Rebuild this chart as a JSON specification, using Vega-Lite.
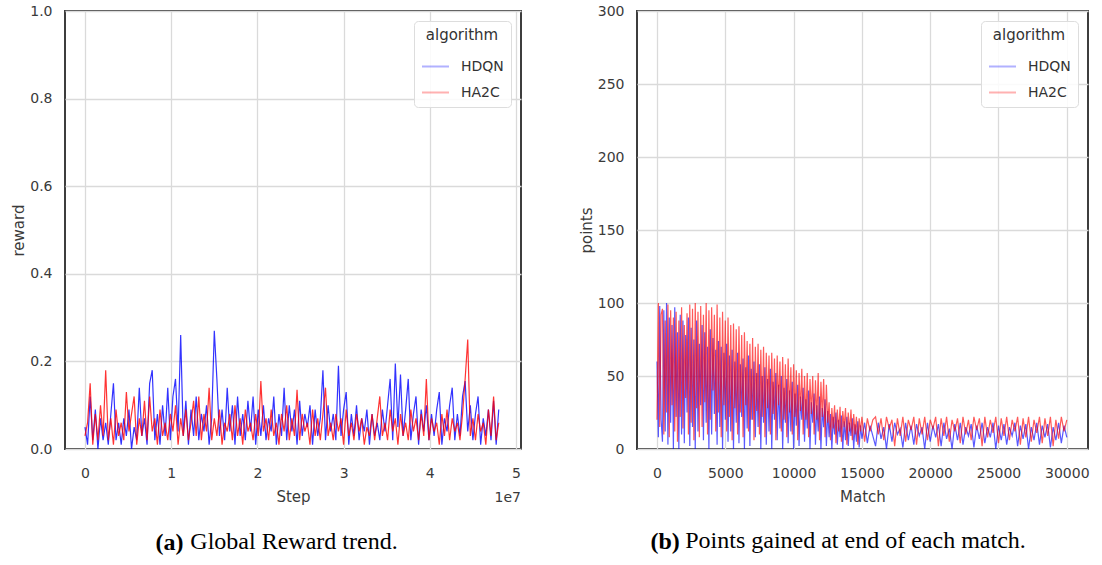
{
  "$schema": "https://vega.github.io/schema/vega-lite/v6.json",
  "padding": {"left": 10, "top": 3, "right": 5, "bottom": 0},
  "background": "white",
  "spacing": 56,
  "config": {
    "font": "DejaVu Sans",
    "view": {"stroke": "#3d3d3d", "strokeWidth": 2},
    "axis": {"grid": true, "gridColor": "#dadada", "gridWidth": 1.3, "domain": false, "ticks": false, "tickSize": 0,
      "labelFont": "DejaVu Sans", "labelFontSize": 14, "labelColor": "#3a3a3a",
      "titleFont": "DejaVu Sans", "titleFontSize": 15, "titleFontWeight": "normal", "titleColor": "#3a3a3a",
      "labelPadding": 13, "titlePadding": 3},
    "axisX": {"labelPadding": 17, "titlePadding": 9},
    "legend": {"orient": "top-right", "offset": 10, "fillColor": "rgba(255,255,255,0.85)", "strokeColor": "#dddddd", "cornerRadius": 4, "padding": 7,
      "titleFont": "DejaVu Sans", "titleFontSize": 15, "titleFontWeight": "normal", "titleColor": "#333333",
      "labelFont": "DejaVu Sans", "labelFontSize": 14, "labelColor": "#333333",
      "symbolType": "stroke", "symbolStrokeWidth": 2, "symbolSize": 729, "symbolOpacity": 0.3,
      "rowPadding": 4, "titleAnchor": "middle", "titlePadding": 9, "labelOffset": 11},
    "title": {"font": "Liberation Serif", "fontSize": 24, "color": "#000000"}
  },
  "datasets": {
    "reward": [
      {"Step":0,"HDQN":0.05,"HA2C":0.03},{"Step":300000,"HDQN":0.01,"HA2C":0.06},{"Step":600000,"HDQN":0.12,"HA2C":0.15},{"Step":900000,"HDQN":0.02,"HA2C":0.01},
      {"Step":1200000,"HDQN":0.09,"HA2C":0.08},{"Step":1500000,"HDQN":0.0,"HA2C":0.02},{"Step":1800000,"HDQN":0.07,"HA2C":0.10},{"Step":2100000,"HDQN":0.02,"HA2C":0.03},
      {"Step":2400000,"HDQN":0.06,"HA2C":0.18},{"Step":2700000,"HDQN":0.01,"HA2C":0.02},{"Step":3000000,"HDQN":0.08,"HA2C":0.07},{"Step":3300000,"HDQN":0.15,"HA2C":0.01},
      {"Step":3600000,"HDQN":0.02,"HA2C":0.09},{"Step":3900000,"HDQN":0.06,"HA2C":0.03},{"Step":4200000,"HDQN":0.01,"HA2C":0.06},{"Step":4500000,"HDQN":0.07,"HA2C":0.02},
      {"Step":4800000,"HDQN":0.03,"HA2C":0.13},{"Step":5100000,"HDQN":0.09,"HA2C":0.04},{"Step":5400000,"HDQN":0.0,"HA2C":0.08},{"Step":5700000,"HDQN":0.05,"HA2C":0.12},
      {"Step":6000000,"HDQN":0.02,"HA2C":0.01},{"Step":6300000,"HDQN":0.14,"HA2C":0.07},{"Step":6600000,"HDQN":0.03,"HA2C":0.03},{"Step":6900000,"HDQN":0.07,"HA2C":0.11},
      {"Step":7200000,"HDQN":0.01,"HA2C":0.02},{"Step":7500000,"HDQN":0.15,"HA2C":0.12},{"Step":7800000,"HDQN":0.18,"HA2C":0.04},{"Step":8100000,"HDQN":0.02,"HA2C":0.07},
      {"Step":8400000,"HDQN":0.08,"HA2C":0.01},{"Step":8700000,"HDQN":0.01,"HA2C":0.09},{"Step":9000000,"HDQN":0.10,"HA2C":0.03},{"Step":9300000,"HDQN":0.03,"HA2C":0.06},
      {"Step":9600000,"HDQN":0.14,"HA2C":0.02},{"Step":9900000,"HDQN":0.02,"HA2C":0.08},{"Step":10200000,"HDQN":0.12,"HA2C":0.04},{"Step":10500000,"HDQN":0.16,"HA2C":0.10},
      {"Step":10800000,"HDQN":0.04,"HA2C":0.01},{"Step":11100000,"HDQN":0.26,"HA2C":0.07},{"Step":11400000,"HDQN":0.03,"HA2C":0.03},{"Step":11700000,"HDQN":0.11,"HA2C":0.09},
      {"Step":12000000,"HDQN":0.01,"HA2C":0.02},{"Step":12300000,"HDQN":0.09,"HA2C":0.06},{"Step":12600000,"HDQN":0.03,"HA2C":0.11},{"Step":12900000,"HDQN":0.12,"HA2C":0.03},
      {"Step":13200000,"HDQN":0.02,"HA2C":0.12},{"Step":13500000,"HDQN":0.08,"HA2C":0.02},{"Step":13800000,"HDQN":0.04,"HA2C":0.08},{"Step":14100000,"HDQN":0.10,"HA2C":0.04},
      {"Step":14400000,"HDQN":0.01,"HA2C":0.14},{"Step":14700000,"HDQN":0.07,"HA2C":0.02},{"Step":15000000,"HDQN":0.27,"HA2C":0.07},{"Step":15300000,"HDQN":0.16,"HA2C":0.03},
      {"Step":15600000,"HDQN":0.03,"HA2C":0.09},{"Step":15900000,"HDQN":0.09,"HA2C":0.01},{"Step":16200000,"HDQN":0.02,"HA2C":0.06},{"Step":16500000,"HDQN":0.14,"HA2C":0.04},
      {"Step":16800000,"HDQN":0.04,"HA2C":0.08},{"Step":17100000,"HDQN":0.10,"HA2C":0.02},{"Step":17400000,"HDQN":0.01,"HA2C":0.10},{"Step":17700000,"HDQN":0.12,"HA2C":0.03},
      {"Step":18000000,"HDQN":0.03,"HA2C":0.07},{"Step":18300000,"HDQN":0.08,"HA2C":0.01},{"Step":18600000,"HDQN":0.02,"HA2C":0.09},{"Step":18900000,"HDQN":0.11,"HA2C":0.04},
      {"Step":19200000,"HDQN":0.04,"HA2C":0.06},{"Step":19500000,"HDQN":0.12,"HA2C":0.02},{"Step":19800000,"HDQN":0.01,"HA2C":0.08},{"Step":20100000,"HDQN":0.09,"HA2C":0.03},
      {"Step":20400000,"HDQN":0.03,"HA2C":0.155},{"Step":20700000,"HDQN":0.10,"HA2C":0.04},{"Step":21000000,"HDQN":0.02,"HA2C":0.07},{"Step":21300000,"HDQN":0.07,"HA2C":0.02},
      {"Step":21600000,"HDQN":0.04,"HA2C":0.09},{"Step":21900000,"HDQN":0.12,"HA2C":0.03},{"Step":22200000,"HDQN":0.01,"HA2C":0.06},{"Step":22500000,"HDQN":0.08,"HA2C":0.01},
      {"Step":22800000,"HDQN":0.03,"HA2C":0.08},{"Step":23100000,"HDQN":0.14,"HA2C":0.04},{"Step":23400000,"HDQN":0.02,"HA2C":0.10},{"Step":23700000,"HDQN":0.10,"HA2C":0.02},
      {"Step":24000000,"HDQN":0.04,"HA2C":0.07},{"Step":24300000,"HDQN":0.09,"HA2C":0.03},{"Step":24600000,"HDQN":0.01,"HA2C":0.135},{"Step":24900000,"HDQN":0.11,"HA2C":0.02},
      {"Step":25200000,"HDQN":0.03,"HA2C":0.08},{"Step":25500000,"HDQN":0.08,"HA2C":0.04},{"Step":25800000,"HDQN":0.05,"HA2C":0.06},{"Step":26100000,"HDQN":0.10,"HA2C":0.01},
      {"Step":26400000,"HDQN":0.01,"HA2C":0.09},{"Step":26700000,"HDQN":0.09,"HA2C":0.03},{"Step":27000000,"HDQN":0.03,"HA2C":0.07},{"Step":27300000,"HDQN":0.07,"HA2C":0.02},
      {"Step":27600000,"HDQN":0.18,"HA2C":0.08},{"Step":27900000,"HDQN":0.02,"HA2C":0.14},{"Step":28200000,"HDQN":0.10,"HA2C":0.03},{"Step":28500000,"HDQN":0.04,"HA2C":0.06},
      {"Step":28800000,"HDQN":0.08,"HA2C":0.02},{"Step":29100000,"HDQN":0.02,"HA2C":0.08},{"Step":29400000,"HDQN":0.19,"HA2C":0.04},{"Step":29700000,"HDQN":0.03,"HA2C":0.07},
      {"Step":30000000,"HDQN":0.09,"HA2C":0.01},{"Step":30300000,"HDQN":0.13,"HA2C":0.09},{"Step":30600000,"HDQN":0.01,"HA2C":0.03},{"Step":30900000,"HDQN":0.08,"HA2C":0.06},
      {"Step":31200000,"HDQN":0.03,"HA2C":0.02},{"Step":31500000,"HDQN":0.10,"HA2C":0.08},{"Step":31800000,"HDQN":0.02,"HA2C":0.04},{"Step":32100000,"HDQN":0.07,"HA2C":0.07},
      {"Step":32400000,"HDQN":0.04,"HA2C":0.01},{"Step":32700000,"HDQN":0.09,"HA2C":0.05},{"Step":33000000,"HDQN":0.01,"HA2C":0.03},{"Step":33300000,"HDQN":0.08,"HA2C":0.08},
      {"Step":33600000,"HDQN":0.03,"HA2C":0.02},{"Step":33900000,"HDQN":0.06,"HA2C":0.07},{"Step":34200000,"HDQN":0.02,"HA2C":0.12},{"Step":34500000,"HDQN":0.09,"HA2C":0.03},
      {"Step":34800000,"HDQN":0.04,"HA2C":0.06},{"Step":35100000,"HDQN":0.10,"HA2C":0.02},{"Step":35400000,"HDQN":0.16,"HA2C":0.09},{"Step":35700000,"HDQN":0.02,"HA2C":0.04},
      {"Step":36000000,"HDQN":0.195,"HA2C":0.07},{"Step":36300000,"HDQN":0.05,"HA2C":0.01},{"Step":36600000,"HDQN":0.17,"HA2C":0.08},{"Step":36900000,"HDQN":0.03,"HA2C":0.03},
      {"Step":37200000,"HDQN":0.09,"HA2C":0.06},{"Step":37500000,"HDQN":0.16,"HA2C":0.02},{"Step":37800000,"HDQN":0.02,"HA2C":0.09},{"Step":38100000,"HDQN":0.08,"HA2C":0.04},
      {"Step":38400000,"HDQN":0.12,"HA2C":0.07},{"Step":38700000,"HDQN":0.01,"HA2C":0.02},{"Step":39000000,"HDQN":0.09,"HA2C":0.08},{"Step":39300000,"HDQN":0.04,"HA2C":0.03},
      {"Step":39600000,"HDQN":0.10,"HA2C":0.16},{"Step":39900000,"HDQN":0.02,"HA2C":0.02},{"Step":40200000,"HDQN":0.08,"HA2C":0.07},{"Step":40500000,"HDQN":0.03,"HA2C":0.04},
      {"Step":40800000,"HDQN":0.09,"HA2C":0.06},{"Step":41100000,"HDQN":0.13,"HA2C":0.01},{"Step":41400000,"HDQN":0.01,"HA2C":0.08},{"Step":41700000,"HDQN":0.07,"HA2C":0.03},
      {"Step":42000000,"HDQN":0.04,"HA2C":0.09},{"Step":42300000,"HDQN":0.10,"HA2C":0.02},{"Step":42600000,"HDQN":0.14,"HA2C":0.07},{"Step":42900000,"HDQN":0.02,"HA2C":0.04},
      {"Step":43200000,"HDQN":0.08,"HA2C":0.06},{"Step":43500000,"HDQN":0.03,"HA2C":0.02},{"Step":43800000,"HDQN":0.12,"HA2C":0.08},{"Step":44100000,"HDQN":0.155,"HA2C":0.16},
      {"Step":44400000,"HDQN":0.04,"HA2C":0.25},{"Step":44700000,"HDQN":0.10,"HA2C":0.03},{"Step":45000000,"HDQN":0.02,"HA2C":0.07},{"Step":45300000,"HDQN":0.08,"HA2C":0.02},
      {"Step":45600000,"HDQN":0.12,"HA2C":0.08},{"Step":45900000,"HDQN":0.01,"HA2C":0.04},{"Step":46200000,"HDQN":0.07,"HA2C":0.06},{"Step":46500000,"HDQN":0.03,"HA2C":0.01},
      {"Step":46800000,"HDQN":0.09,"HA2C":0.09},{"Step":47100000,"HDQN":0.02,"HA2C":0.03},{"Step":47400000,"HDQN":0.11,"HA2C":0.12},{"Step":47700000,"HDQN":0.01,"HA2C":0.02},
      {"Step":48000000,"HDQN":0.09,"HA2C":0.06}
    ],
    "points": [
      {"Match":0,"HDQN":60,"HA2C":20},{"Match":100,"HDQN":8,"HA2C":100},{"Match":200,"HDQN":98,"HA2C":15},{"Match":300,"HDQN":20,"HA2C":92},
      {"Match":400,"HDQN":5,"HA2C":96},{"Match":500,"HDQN":95,"HA2C":10},{"Match":600,"HDQN":12,"HA2C":88},{"Match":700,"HDQN":100,"HA2C":25},
      {"Match":800,"HDQN":3,"HA2C":99},{"Match":900,"HDQN":90,"HA2C":8},{"Match":1000,"HDQN":18,"HA2C":95},{"Match":1100,"HDQN":85,"HA2C":30},
      {"Match":1200,"HDQN":0,"HA2C":90},{"Match":1300,"HDQN":97,"HA2C":12},{"Match":1400,"HDQN":22,"HA2C":94},{"Match":1500,"HDQN":80,"HA2C":5},
      {"Match":1600,"HDQN":0,"HA2C":88},{"Match":1700,"HDQN":92,"HA2C":22},{"Match":1800,"HDQN":10,"HA2C":97},{"Match":1900,"HDQN":88,"HA2C":14},
      {"Match":2000,"HDQN":4,"HA2C":85},{"Match":2100,"HDQN":78,"HA2C":35},{"Match":2200,"HDQN":25,"HA2C":93},{"Match":2300,"HDQN":90,"HA2C":10},
      {"Match":2400,"HDQN":2,"HA2C":99},{"Match":2500,"HDQN":83,"HA2C":18},{"Match":2600,"HDQN":15,"HA2C":96},{"Match":2700,"HDQN":75,"HA2C":6},
      {"Match":2800,"HDQN":0,"HA2C":100},{"Match":2900,"HDQN":88,"HA2C":28},{"Match":3000,"HDQN":12,"HA2C":94},{"Match":3100,"HDQN":72,"HA2C":8},
      {"Match":3200,"HDQN":30,"HA2C":98},{"Match":3300,"HDQN":85,"HA2C":15},{"Match":3400,"HDQN":6,"HA2C":92},{"Match":3500,"HDQN":80,"HA2C":32},
      {"Match":3600,"HDQN":18,"HA2C":100},{"Match":3700,"HDQN":70,"HA2C":10},{"Match":3800,"HDQN":0,"HA2C":95},{"Match":3900,"HDQN":82,"HA2C":20},
      {"Match":4000,"HDQN":10,"HA2C":97},{"Match":4100,"HDQN":76,"HA2C":40},{"Match":4200,"HDQN":24,"HA2C":92},{"Match":4300,"HDQN":68,"HA2C":12},
      {"Match":4400,"HDQN":3,"HA2C":99},{"Match":4500,"HDQN":74,"HA2C":25},{"Match":4600,"HDQN":15,"HA2C":90},{"Match":4700,"HDQN":70,"HA2C":8},
      {"Match":4800,"HDQN":0,"HA2C":94},{"Match":4900,"HDQN":66,"HA2C":30},{"Match":5000,"HDQN":20,"HA2C":88},{"Match":5100,"HDQN":72,"HA2C":12},
      {"Match":5200,"HDQN":5,"HA2C":90},{"Match":5300,"HDQN":64,"HA2C":22},{"Match":5400,"HDQN":12,"HA2C":85},{"Match":5500,"HDQN":68,"HA2C":6},
      {"Match":5600,"HDQN":0,"HA2C":86},{"Match":5700,"HDQN":60,"HA2C":28},{"Match":5800,"HDQN":18,"HA2C":82},{"Match":5900,"HDQN":66,"HA2C":10},
      {"Match":6000,"HDQN":4,"HA2C":84},{"Match":6100,"HDQN":58,"HA2C":25},{"Match":6200,"HDQN":22,"HA2C":78},{"Match":6300,"HDQN":62,"HA2C":8},
      {"Match":6400,"HDQN":0,"HA2C":80},{"Match":6500,"HDQN":56,"HA2C":30},{"Match":6600,"HDQN":14,"HA2C":74},{"Match":6700,"HDQN":64,"HA2C":12},
      {"Match":6800,"HDQN":2,"HA2C":72},{"Match":6900,"HDQN":55,"HA2C":20},{"Match":7000,"HDQN":20,"HA2C":76},{"Match":7100,"HDQN":60,"HA2C":6},
      {"Match":7200,"HDQN":8,"HA2C":70},{"Match":7300,"HDQN":52,"HA2C":26},{"Match":7400,"HDQN":15,"HA2C":72},{"Match":7500,"HDQN":58,"HA2C":10},
      {"Match":7600,"HDQN":0,"HA2C":68},{"Match":7700,"HDQN":50,"HA2C":22},{"Match":7800,"HDQN":18,"HA2C":70},{"Match":7900,"HDQN":56,"HA2C":8},
      {"Match":8000,"HDQN":3,"HA2C":66},{"Match":8100,"HDQN":48,"HA2C":28},{"Match":8200,"HDQN":12,"HA2C":64},{"Match":8300,"HDQN":55,"HA2C":10},
      {"Match":8400,"HDQN":0,"HA2C":66},{"Match":8500,"HDQN":46,"HA2C":24},{"Match":8600,"HDQN":20,"HA2C":62},{"Match":8700,"HDQN":52,"HA2C":6},
      {"Match":8800,"HDQN":6,"HA2C":64},{"Match":8900,"HDQN":44,"HA2C":30},{"Match":9000,"HDQN":14,"HA2C":60},{"Match":9100,"HDQN":50,"HA2C":12},
      {"Match":9200,"HDQN":0,"HA2C":63},{"Match":9300,"HDQN":42,"HA2C":20},{"Match":9400,"HDQN":18,"HA2C":58},{"Match":9500,"HDQN":48,"HA2C":8},
      {"Match":9600,"HDQN":4,"HA2C":62},{"Match":9700,"HDQN":40,"HA2C":25},{"Match":9800,"HDQN":12,"HA2C":56},{"Match":9900,"HDQN":46,"HA2C":10},
      {"Match":10000,"HDQN":0,"HA2C":58},{"Match":10100,"HDQN":38,"HA2C":22},{"Match":10200,"HDQN":16,"HA2C":54},{"Match":10300,"HDQN":44,"HA2C":6},
      {"Match":10400,"HDQN":2,"HA2C":52},{"Match":10500,"HDQN":36,"HA2C":26},{"Match":10600,"HDQN":20,"HA2C":55},{"Match":10700,"HDQN":42,"HA2C":10},
      {"Match":10800,"HDQN":5,"HA2C":50},{"Match":10900,"HDQN":34,"HA2C":20},{"Match":11000,"HDQN":14,"HA2C":52},{"Match":11100,"HDQN":40,"HA2C":8},
      {"Match":11200,"HDQN":0,"HA2C":48},{"Match":11300,"HDQN":32,"HA2C":24},{"Match":11400,"HDQN":18,"HA2C":50},{"Match":11500,"HDQN":38,"HA2C":10},
      {"Match":11600,"HDQN":3,"HA2C":47},{"Match":11700,"HDQN":30,"HA2C":20},{"Match":11800,"HDQN":12,"HA2C":52},{"Match":11900,"HDQN":36,"HA2C":6},
      {"Match":12000,"HDQN":0,"HA2C":46},{"Match":12100,"HDQN":28,"HA2C":22},{"Match":12200,"HDQN":15,"HA2C":48},{"Match":12300,"HDQN":34,"HA2C":8},
      {"Match":12400,"HDQN":2,"HA2C":44},{"Match":12500,"HDQN":26,"HA2C":18},{"Match":12600,"HDQN":8,"HA2C":32},{"Match":12700,"HDQN":24,"HA2C":6},
      {"Match":12800,"HDQN":0,"HA2C":28},{"Match":12900,"HDQN":22,"HA2C":14},{"Match":13000,"HDQN":10,"HA2C":30},{"Match":13100,"HDQN":25,"HA2C":4},
      {"Match":13200,"HDQN":3,"HA2C":27},{"Match":13300,"HDQN":20,"HA2C":12},{"Match":13400,"HDQN":8,"HA2C":29},{"Match":13500,"HDQN":23,"HA2C":5},
      {"Match":13600,"HDQN":0,"HA2C":26},{"Match":13700,"HDQN":19,"HA2C":15},{"Match":13800,"HDQN":6,"HA2C":28},{"Match":13900,"HDQN":22,"HA2C":3},
      {"Match":14000,"HDQN":2,"HA2C":25},{"Match":14100,"HDQN":18,"HA2C":12},{"Match":14200,"HDQN":9,"HA2C":27},{"Match":14300,"HDQN":21,"HA2C":6},
      {"Match":14400,"HDQN":0,"HA2C":24},{"Match":14500,"HDQN":17,"HA2C":10},{"Match":14600,"HDQN":5,"HA2C":22},{"Match":14700,"HDQN":19,"HA2C":3},
      {"Match":14800,"HDQN":1,"HA2C":21},{"Match":14900,"HDQN":16,"HA2C":12},{"Match":15000,"HDQN":7,"HA2C":22},
      {"Match":15200,"HDQN":18,"HA2C":5},{"Match":15400,"HDQN":4,"HA2C":21},{"Match":15600,"HDQN":16,"HA2C":12},{"Match":15800,"HDQN":9,"HA2C":20},
      {"Match":16000,"HDQN":2,"HA2C":22},{"Match":16200,"HDQN":18,"HA2C":10},{"Match":16400,"HDQN":7,"HA2C":21},{"Match":16600,"HDQN":15,"HA2C":6},
      {"Match":16800,"HDQN":0,"HA2C":22},{"Match":17000,"HDQN":17,"HA2C":14},{"Match":17200,"HDQN":5,"HA2C":20},{"Match":17400,"HDQN":18,"HA2C":2},
      {"Match":17600,"HDQN":10,"HA2C":21},{"Match":17800,"HDQN":14,"HA2C":9},{"Match":18000,"HDQN":1,"HA2C":22},{"Match":18200,"HDQN":18,"HA2C":5},
      {"Match":18400,"HDQN":6,"HA2C":20},{"Match":18600,"HDQN":16,"HA2C":13},{"Match":18800,"HDQN":3,"HA2C":22},{"Match":19000,"HDQN":17,"HA2C":3},
      {"Match":19200,"HDQN":9,"HA2C":21},{"Match":19400,"HDQN":15,"HA2C":10},{"Match":19600,"HDQN":0,"HA2C":22},{"Match":19800,"HDQN":18,"HA2C":6},
      {"Match":20000,"HDQN":5,"HA2C":20},{"Match":20200,"HDQN":16,"HA2C":14},{"Match":20400,"HDQN":8,"HA2C":22},{"Match":20600,"HDQN":17,"HA2C":2},
      {"Match":20800,"HDQN":2,"HA2C":21},{"Match":21000,"HDQN":18,"HA2C":9},{"Match":21200,"HDQN":7,"HA2C":22},{"Match":21400,"HDQN":14,"HA2C":5},
      {"Match":21600,"HDQN":0,"HA2C":20},{"Match":21800,"HDQN":17,"HA2C":12},{"Match":22000,"HDQN":6,"HA2C":21},{"Match":22200,"HDQN":18,"HA2C":4},
      {"Match":22400,"HDQN":3,"HA2C":22},{"Match":22600,"HDQN":15,"HA2C":10},{"Match":22800,"HDQN":9,"HA2C":20},{"Match":23000,"HDQN":17,"HA2C":6},
      {"Match":23200,"HDQN":1,"HA2C":22},{"Match":23400,"HDQN":16,"HA2C":13},{"Match":23600,"HDQN":7,"HA2C":21},{"Match":23800,"HDQN":18,"HA2C":2},
      {"Match":24000,"HDQN":4,"HA2C":22},{"Match":24200,"HDQN":15,"HA2C":8},{"Match":24400,"HDQN":8,"HA2C":20},{"Match":24600,"HDQN":18,"HA2C":11},
      {"Match":24800,"HDQN":0,"HA2C":22},{"Match":25000,"HDQN":16,"HA2C":4},{"Match":25200,"HDQN":6,"HA2C":21},{"Match":25400,"HDQN":17,"HA2C":9},
      {"Match":25600,"HDQN":3,"HA2C":22},{"Match":25800,"HDQN":15,"HA2C":6},{"Match":26000,"HDQN":9,"HA2C":20},{"Match":26200,"HDQN":18,"HA2C":12},
      {"Match":26400,"HDQN":2,"HA2C":22},{"Match":26600,"HDQN":16,"HA2C":3},{"Match":26800,"HDQN":7,"HA2C":21},{"Match":27000,"HDQN":17,"HA2C":8},
      {"Match":27200,"HDQN":0,"HA2C":22},{"Match":27400,"HDQN":15,"HA2C":5},{"Match":27600,"HDQN":6,"HA2C":20},{"Match":27800,"HDQN":18,"HA2C":11},
      {"Match":28000,"HDQN":3,"HA2C":22},{"Match":28200,"HDQN":16,"HA2C":4},{"Match":28400,"HDQN":8,"HA2C":21},{"Match":28600,"HDQN":17,"HA2C":9},
      {"Match":28800,"HDQN":1,"HA2C":22},{"Match":29000,"HDQN":15,"HA2C":2},{"Match":29200,"HDQN":6,"HA2C":20},{"Match":29400,"HDQN":18,"HA2C":7},
      {"Match":29600,"HDQN":4,"HA2C":22},{"Match":29800,"HDQN":16,"HA2C":12},{"Match":30000,"HDQN":8,"HA2C":20}
    ]
  },
  "resolve": {"scale": {"color": "independent"}, "legend": {"color": "independent"}},
  "hconcat": [
    {
      "title": {"text": "(a)", "orient": "bottom", "anchor": "middle", "frame": "bounds", "fontWeight": "bold", "offset": -24, "dx": -97},
      "resolve": {"scale": {"color": "independent"}, "legend": {"color": "independent"}},
      "vconcat": [
        {
          "width": 456,
          "height": 438,
          "title": {"text": "Global Reward trend.", "orient": "bottom", "anchor": "middle", "frame": "group", "fontWeight": "normal", "offset": 25, "dx": 1},
          "layer": [
            {
              "data": {"name": "reward"},
              "transform": [{"fold": ["HDQN", "HA2C"], "as": ["algorithm", "reward"]}],
              "mark": {"type": "line", "strokeWidth": 1.2, "opacity": 0.8},
              "encoding": {
                "x": {"field": "Step", "type": "quantitative", "title": "Step",
                  "scale": {"domain": [-2320000, 50580000], "nice": false, "zero": false},
                  "axis": {"values": [0, 10000000, 20000000, 30000000, 40000000, 50000000], "labelExpr": "format(datum.value / 10000000, 'd')"}},
                "y": {"field": "reward", "type": "quantitative", "title": "reward",
                  "scale": {"domain": [0, 1], "nice": false},
                  "axis": {"values": [0, 0.2, 0.4, 0.6, 0.8, 1.0], "format": ".1f"}},
                "color": {"field": "algorithm", "type": "nominal", "sort": ["HDQN", "HA2C"],
                  "scale": {"domain": ["HDQN", "HA2C"], "range": ["#0000ff", "#ff0000"]},
                  "legend": {"title": "algorithm"}}
              }
            },
            {
              "data": {"values": [{"t": "1e7"}]},
              "mark": {"type": "text", "align": "right", "baseline": "middle", "font": "DejaVu Sans", "fontSize": 14, "color": "#3a3a3a"},
              "encoding": {
                "x": {"datum": 50580000, "type": "quantitative", "title": "Step",
                  "scale": {"domain": [-2320000, 50580000], "nice": false, "zero": false},
                  "axis": {"values": [0, 10000000, 20000000, 30000000, 40000000, 50000000], "labelExpr": "format(datum.value / 10000000, 'd')"}},
                "y": {"datum": -0.112, "type": "quantitative", "title": "reward",
                  "scale": {"domain": [0, 1], "nice": false},
                  "axis": {"values": [0, 0.2, 0.4, 0.6, 0.8, 1.0], "format": ".1f"}},
                "text": {"field": "t"}
              }
            }
          ]
        }
      ]
    },
    {
      "title": {"text": "(b)", "orient": "bottom", "anchor": "middle", "frame": "bounds", "fontWeight": "bold", "offset": -24, "dx": -169},
      "resolve": {"scale": {"color": "independent"}, "legend": {"color": "independent"}},
      "vconcat": [
        {
          "width": 451,
          "height": 438,
          "title": {"text": "Points gained at end of each match.", "orient": "bottom", "anchor": "middle", "frame": "group", "fontWeight": "normal", "offset": 25, "dx": -7},
          "data": {"name": "points"},
          "transform": [{"fold": ["HDQN", "HA2C"], "as": ["algorithm", "points"]}],
          "mark": {"type": "line", "strokeWidth": 1.2, "opacity": 0.65},
          "encoding": {
            "x": {"field": "Match", "type": "quantitative", "title": "Match",
              "scale": {"domain": [-1464, 31552], "nice": false, "zero": false},
              "axis": {"values": [0, 5000, 10000, 15000, 20000, 25000, 30000], "format": "d"}},
            "y": {"field": "points", "type": "quantitative", "title": "points",
              "scale": {"domain": [0, 300], "nice": false},
              "axis": {"values": [0, 50, 100, 150, 200, 250, 300], "format": "d"}},
            "color": {"field": "algorithm", "type": "nominal", "sort": ["HDQN", "HA2C"],
              "scale": {"domain": ["HDQN", "HA2C"], "range": ["#0000ff", "#ff0000"]},
              "legend": {"title": "algorithm"}}
          }
        }
      ]
    }
  ]
}
